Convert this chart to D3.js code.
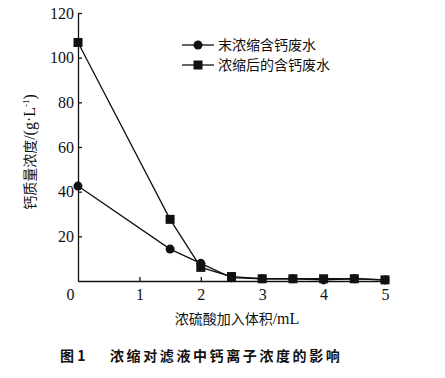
<!DOCTYPE html>
<html>
<head>
<meta charset="utf-8">
<script src="https://cdn.jsdelivr.net/npm/d3@7"></script>
<style>
body { margin: 0; background: #fff; }
svg text { fill: #111; }
.axis path, .axis line { stroke: #111; stroke-width: 1.3; }
</style>
</head>
<body>
<svg class="chart" width="445" height="378"></svg>
<script>
const volumes = [0, 1.5, 2, 2.5, 3, 3.5, 4, 4.5, 5];
const unconcentrated = [42.5, 14.3, 7.9, 1.5, 1, 1, 0.5, 1, 0.5];
const concentrated = [106.8, 27.6, 6.1, 2, 1, 1, 1, 1, 0.5];
const xTicks = [0, 1, 2, 3, 4, 5];
const yTicks = [0, 20, 40, 60, 80, 100, 120];
const seriesNames = ["末浓缩含钙废水", "浓缩后的含钙废水"];

const svg = d3.select("svg.chart");
const margin = { top: 13, left: 78 };
const width = 307;
const height = 268;
const serif = "Liberation Serif";
const cjk = "Noto Sans CJK SC";

const x = d3.scaleLinear().domain([0, 5]).range([0, width]);
const y = d3.scaleLinear().domain([0, 120]).range([height, 0]);

const g = svg.append("g")
    .attr("transform", `translate(${margin.left}, ${margin.top})`);

const xAxis = g.append("g")
    .attr("class", "x axis")
    .attr("transform", `translate(0, ${height})`)
    .call(d3.axisBottom(x).tickValues(xTicks).tickFormat(d3.format("d"))
        .tickSize(-4).tickPadding(8).tickSizeOuter(0));
xAxis.selectAll(".tick text").filter(d => d === 0).attr("dx", "-8");
xAxis.selectAll(".tick").filter(d => d === 0).select("line").remove();

const yAxis = g.append("g")
    .attr("class", "y axis")
    .call(d3.axisLeft(y).tickValues(yTicks).tickSize(-4).tickPadding(4).tickSizeOuter(0)
        .tickFormat(d => d === 0 ? "" : d));
yAxis.selectAll(".tick").filter(d => d === 0).select("line").remove();

g.selectAll(".axis").attr("font-family", serif).attr("font-size", 16);

const line = d3.line()
    .x((d, i) => x(volumes[i]))
    .y(d => y(d));

g.append("path")
    .datum(unconcentrated)
    .attr("fill", "none")
    .attr("stroke", "#111")
    .attr("stroke-width", 1.3)
    .attr("d", line);

g.append("path")
    .datum(concentrated)
    .attr("fill", "none")
    .attr("stroke", "#111")
    .attr("stroke-width", 1.3)
    .attr("d", line);

g.selectAll(".dot")
    .data(unconcentrated)
    .enter().append("circle")
    .attr("class", "dot")
    .attr("cx", (d, i) => x(volumes[i]))
    .attr("cy", d => y(d))
    .attr("r", 4.5)
    .attr("fill", "#111");

g.selectAll(".sq")
    .data(concentrated)
    .enter().append("rect")
    .attr("class", "sq")
    .attr("x", (d, i) => x(volumes[i]) - 4.5)
    .attr("y", d => y(d) - 4.5)
    .attr("width", 9)
    .attr("height", 9)
    .attr("fill", "#111");

// legend
const legend = svg.append("g").attr("transform", "translate(182, 45)");
seriesNames.forEach((name, i) => {
    const row = legend.append("g").attr("transform", `translate(0, ${i * 20})`);
    row.append("line")
        .attr("x1", 0).attr("x2", 32)
        .attr("stroke", "#111").attr("stroke-width", 1.3);
    if (i === 0) {
        row.append("circle").attr("cx", 16).attr("r", 4.5).attr("fill", "#111");
    } else {
        row.append("rect").attr("x", 11.5).attr("y", -4.5).attr("width", 9).attr("height", 9).attr("fill", "#111");
    }
    row.append("text")
        .attr("x", 36).attr("y", 5)
        .attr("font-family", cjk)
        .attr("font-size", 14)
        .text(name);
});

// axis titles
const yTitle = svg.append("text")
    .attr("transform", "translate(35, 152) rotate(-90)")
    .attr("text-anchor", "middle")
    .attr("font-family", cjk)
    .attr("font-size", 14);
yTitle.append("tspan").text("钙质量浓度");
yTitle.append("tspan").attr("font-family", serif).attr("font-size", 16).text("/(g·L");
yTitle.append("tspan").attr("font-family", serif).attr("dy", -6).attr("font-size", 9).text("-1");
yTitle.append("tspan").attr("font-family", serif).attr("font-size", 16).attr("dy", 6).text(")");

const xTitle = svg.append("text")
    .attr("x", 237).attr("y", 324)
    .attr("text-anchor", "middle")
    .attr("font-family", cjk)
    .attr("font-size", 14);
xTitle.append("tspan").text("浓硫酸加入体积");
xTitle.append("tspan").attr("font-family", serif).attr("font-size", 16).text("/mL");

svg.append("text")
    .attr("x", 60).attr("y", 361)
    .attr("font-family", cjk)
    .attr("font-size", 14)
    .attr("font-weight", "bold")
    .text("图 1");

svg.append("text")
    .attr("x", 110).attr("y", 361)
    .attr("font-family", cjk)
    .attr("font-size", 14)
    .attr("font-weight", "bold")
    .style("letter-spacing", "2.6px")
    .text("浓缩对滤液中钙离子浓度的影响");
</script>
</body>
</html>
